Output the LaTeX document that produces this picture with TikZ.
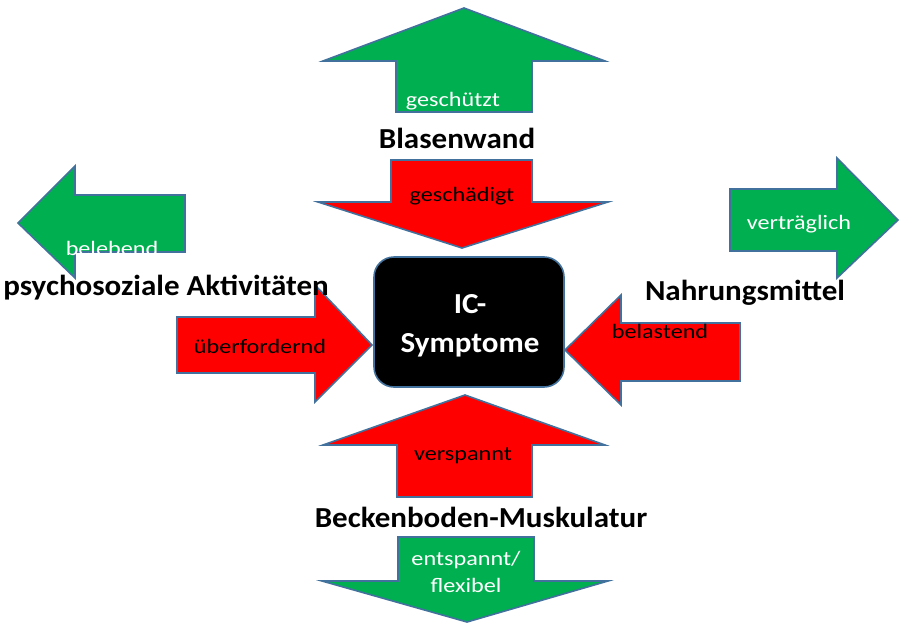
\documentclass[tikz,border=0pt]{standalone}
\usepackage{fontspec}
\setmainfont{Carlito}[FakeStretch=1.18]
\newfontfamily\titlefont{Carlito}[FakeStretch=1.07]
\definecolor{grn}{HTML}{00B050}
\definecolor{rd}{HTML}{FF0000}
\definecolor{edge}{HTML}{41719C}
\tikzset{
  arrowshape/.style={draw=edge, line width=1.6pt, line join=miter},
  greenarrow/.style={arrowshape, fill=grn},
  redarrow/.style={arrowshape, fill=rd},
  lbl/.style={anchor=base, inner sep=0pt, font=\fontsize{20.5}{24}\selectfont},
  wlbl/.style={lbl, text=white},
  title/.style={anchor=base, inner sep=0pt, font=\titlefont\fontsize{29}{33}\selectfont\bfseries},
}
\begin{document}
\begin{tikzpicture}[x=1pt, y=-1pt]
\useasboundingbox (0,0) rectangle (904,626);
% Blasenwand
\draw[greenarrow] (396,112) -- (396,61) -- (323,61) -- (464,8) -- (605,61) -- (532,61) -- (532,112) -- cycle;
\draw[redarrow] (391,160) -- (532,160) -- (532,202) -- (608,202) -- (462,248) -- (318,202) -- (391,202) -- cycle;
% psychosoziale
\draw[greenarrow] (185,195) -- (75,195) -- (75,166) -- (18,223) -- (75,278) -- (75,252) -- (185,252) -- cycle;
\draw[redarrow] (177,317) -- (315,317) -- (315,285) -- (372,345) -- (315,402) -- (315,373) -- (177,373) -- cycle;
% Nahrungsmittel
\draw[greenarrow] (730,189) -- (837,189) -- (837,158) -- (898,220) -- (837,278) -- (837,251) -- (730,251) -- cycle;
\draw[redarrow] (740,323) -- (621,323) -- (621,295) -- (565,350) -- (621,405) -- (621,381) -- (740,381) -- cycle;
% Beckenboden
\draw[redarrow] (397,497) -- (397,445) -- (323,445) -- (465,395) -- (605,445) -- (532,445) -- (532,497) -- cycle;
\draw[greenarrow] (398,537) -- (534,537) -- (534,581) -- (608,581) -- (467,622) -- (322,581) -- (398,581) -- cycle;
% centre box
\draw[draw=edge, line width=1.6pt, fill=black, rounded corners=20pt] (374,257) rectangle (564,387);
\node[title, text=white] (ic) at (470,313) {IC-};
\node[title, text=white] (sym) at (470,352) {Symptome};
% labels
\node[wlbl] (geschuetzt) at (453,106) {geschützt};
\node[title] (blasenwand) at (457,148) {Blasenwand};
\node[lbl] (geschaedigt) at (462,201) {geschädigt};
\node[wlbl] (belebend) at (112,255) {belebend};
\node[title] (psycho) at (166,295) {psychosoziale Aktivitäten};
\node[lbl] (ueber) at (260,353) {überfordernd};
\node[wlbl] (vertraeglich) at (799,229) {verträglich};
\node[title] (nahrung) at (745,300) {Nahrungsmittel};
\node[lbl] (belastend) at (660,338) {belastend};
\node[lbl] (verspannt) at (463,460) {verspannt};
\node[title] (becken) at (481,527) {Beckenboden-Muskulatur};
\node[wlbl] (entspannt) at (466,565) {entspannt/};
\node[wlbl] (flexibel) at (466,592) {flexibel};
\end{tikzpicture}
\end{document}
